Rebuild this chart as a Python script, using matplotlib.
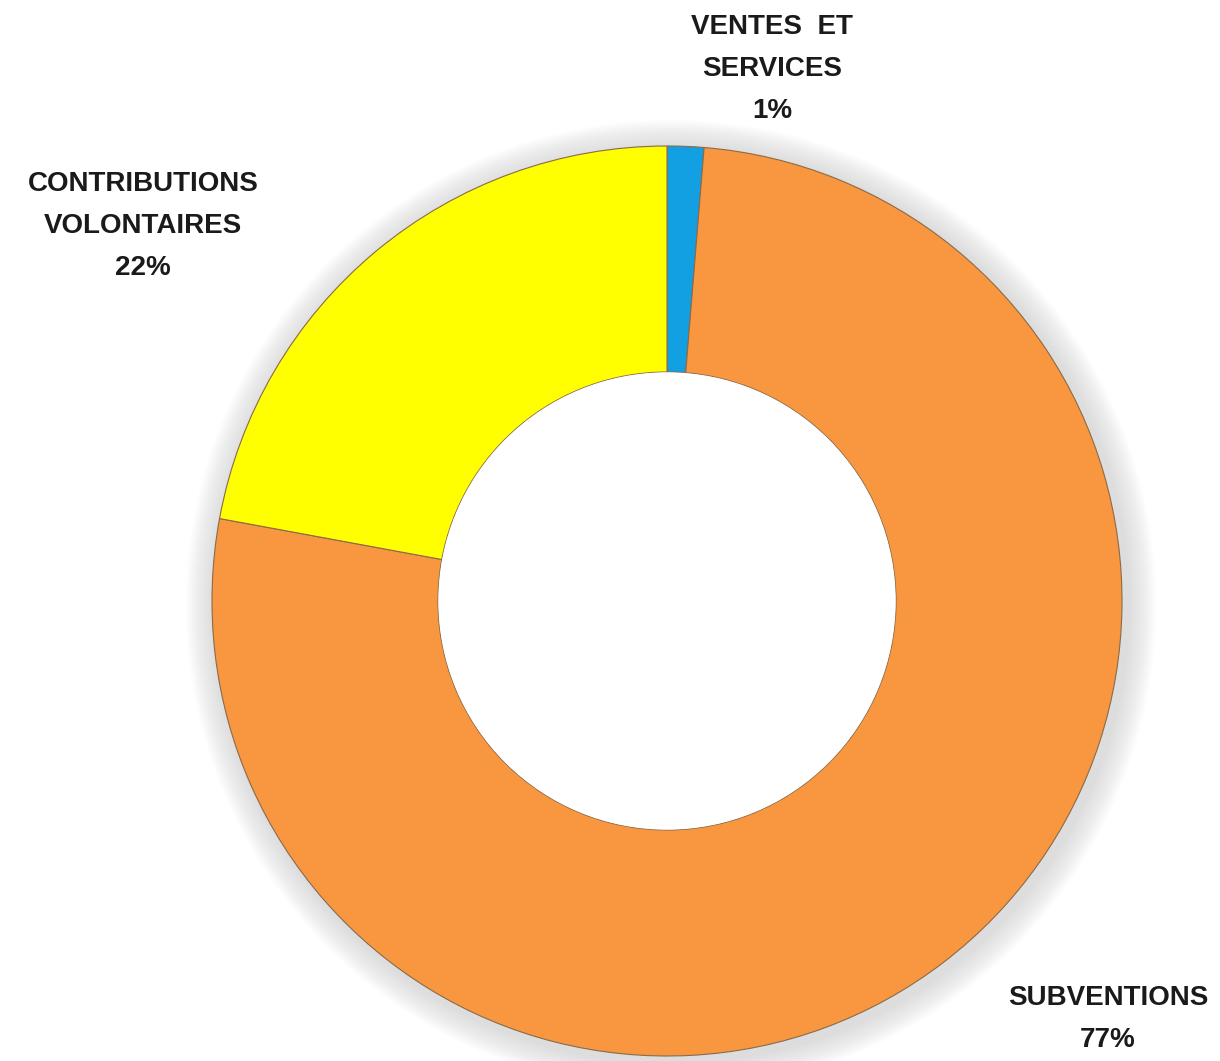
import matplotlib
matplotlib.use("Agg")
import matplotlib.pyplot as plt
from matplotlib.patches import Circle

categories = ["VENTES  ET\nSERVICES", "SUBVENTIONS", "CONTRIBUTIONS\nVOLONTAIRES"]
shares = [1.3, 76.6, 22.1]
colors = ["#12A0E3", "#F8973F", "#FFFF00"]

fig = plt.figure(figsize=(12.2, 10.61), dpi=100)
ax = fig.add_axes([0, 0, 1, 1])
ax.set_xlim(0, 1220)
ax.set_ylim(0, 1061)
ax.axis("off")

cx, cy = 667, 460
R, r_in = 455, 229

# soft grey glow behind the ring
for k in range(14):
    ax.add_patch(Circle((cx + 4, cy - 4), R + 30 - 2 * k, color="#9a9a9a",
                        alpha=0.025, lw=0, zorder=0))

ax.pie(shares, colors=colors, startangle=90, counterclock=False,
       center=(cx, cy), radius=R,
       wedgeprops=dict(width=R - r_in, edgecolor="#8a6a4a", linewidth=0.8))
ax.add_patch(Circle((cx, cy), r_in - 1, color="white", zorder=5))
ax.set_xlim(0, 1220)
ax.set_ylim(0, 1061)
ax.set_aspect("equal")

label_pos = [(772, 1061 - 69), (1108, 1061 - 1019), (143, 1061 - 226)]
for name, val, (x, y) in zip(categories, shares, label_pos):
    ax.text(x, y, f"{name}\n{round(val)}%", ha="center", va="center",
            fontsize=20, fontweight="bold", family="Liberation Sans",
            color="#1a1a1a", linespacing=1.8, zorder=6)

fig.savefig("out.png", dpi=100)
